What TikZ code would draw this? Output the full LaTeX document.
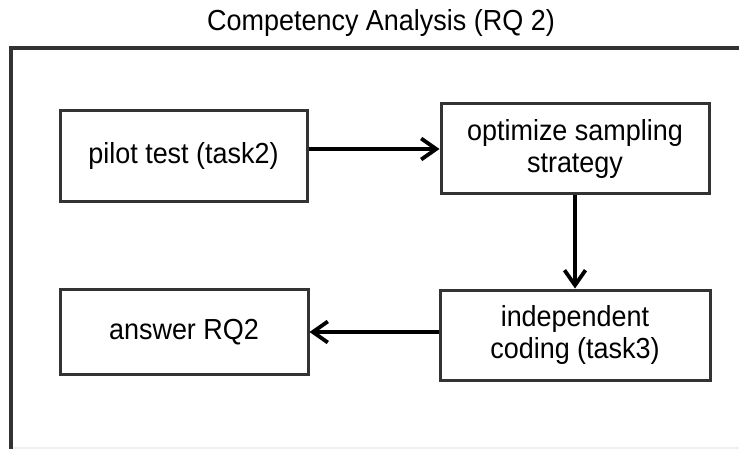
\documentclass[tikz,border=0pt]{standalone}
\usepackage{fontspec}
\setmainfont[FakeStretch=0.93]{Liberation Sans}
\usetikzlibrary{arrows.meta}
\definecolor{boxgray}{HTML}{333333}
\begin{document}
\begin{tikzpicture}[x=1pt,y=-1pt,
  box/.style={draw=boxgray, line width=3pt, inner sep=0pt, align=center,
    font=\fontsize{29}{32}\selectfont},
  flow/.style={line width=3.8pt, draw=black,
    -{Straight Barb[length=15pt,width=21pt,line width=3.8pt]}},
  frame/.style={draw=boxgray, line width=3.5pt},
  titletext/.style={font=\fontsize{29}{32}\selectfont, inner sep=0pt}]
  \useasboundingbox (0,0) rectangle (739,449);

  % outer frame, open towards the right and bottom
  \draw[gray!12, line width=1.5pt] (11,448) -- (745,448);
  \draw[frame] (11,455) -- (11,48) -- (745,48);
  \node[titletext, anchor=base] (title) at (381,31) {Competency Analysis (RQ 2)};

  % process steps
  \node[box, minimum width=247pt, minimum height=91pt] (pilot) at (183.5,156.5) {pilot test (task2)};
  \node[box, minimum width=268pt, minimum height=90pt] (opt) at (575,149) {optimize sampling\\strategy};
  \node[box, minimum width=270pt, minimum height=90pt] (indep) at (575,335) {independent\\coding (task3)};
  \node[box, minimum width=248pt, minimum height=85pt] (answer) at (184,332) {answer RQ2};

  % flow between the steps
  \draw[flow] (pilot.east |- opt.west) -- (opt.west);
  \draw[flow] (opt.south) -- (indep.north);
  \draw[flow] (indep.west |- answer.east) -- (answer.east);
\end{tikzpicture}
\end{document}
